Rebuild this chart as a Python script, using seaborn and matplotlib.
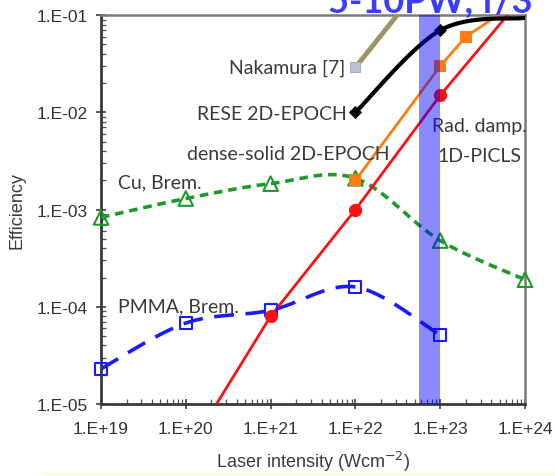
import numpy as np
import pandas as pd
import matplotlib
matplotlib.use("Agg")
import matplotlib.pyplot as plt
from matplotlib.lines import Line2D
import seaborn as sns

# ---- data -------------------------------------------------------------
intensity_decades = [1e19, 1e20, 1e21, 1e22, 1e23, 1e24]
x_tick_labels = ["1.E+19", "1.E+20", "1.E+21", "1.E+22", "1.E+23", "1.E+24"]
y_ticks = [1e-5, 1e-4, 1e-3, 1e-2, 1e-1]
y_tick_labels = ["1.E-05", "1.E-04", "1.E-03", "1.E-02", "1.E-01"]

cu_x = [1e19, 1e20, 1e21, 1e22, 1e23, 1e24]
cu_y = [8.3e-4, 1.3e-3, 1.85e-3, 2.1e-3, 4.8e-4, 1.9e-4]

pmma_x = [1e19, 1e20, 1e21, 1e22, 1e23]
pmma_y = [2.3e-5, 6.8e-5, 9.2e-5, 1.6e-4, 5.1e-5]

red_x = [2.3e20, 1e21, 1e22, 1e23, 6.2e23]
red_y = [1e-5, 8e-5, 1.0e-3, 1.5e-2, 1e-1]
red_marked = [1, 2, 3]

orange_x = [1e22, 1e23, 2e23, 4.8e23]
orange_y = [2.0e-3, 3.0e-2, 6.0e-2, 1e-1]
orange_marked = [0, 1, 2]

rese_x = [1e22, 1e23, 1e24]
rese_y = [1.0e-2, 7.0e-2, 9.4e-2]
rese_marked = [0, 1]

nakamura_x = [1e22, 3.1e22]
nakamura_y = [2.9e-2, 1e-1]

band_range = [5.6e22, 1e23]


def smooth_path(xs, ys, n=40):
    """Excel-style smoothed curve (cubic Bezier through the points) in log-log space."""
    lx, ly = np.log10(xs), np.log10(ys)
    P = np.column_stack([lx, ly])
    Pe = np.vstack([P[0], P, P[-1]])
    out = []
    for i in range(len(P) - 1):
        p0, p1, p2, p3 = Pe[i], Pe[i + 1], Pe[i + 2], Pe[i + 3]
        c1 = p1 + (p2 - p0) / 6.0
        c2 = p2 - (p3 - p1) / 6.0
        t = np.linspace(0, 1, n)[:, None]
        seg = ((1 - t) ** 3) * p1 + 3 * ((1 - t) ** 2) * t * c1 + 3 * (1 - t) * t ** 2 * c2 + t ** 3 * p2
        out.append(seg if i == 0 else seg[1:])
    pts = np.vstack(out)
    return 10 ** pts[:, 0], 10 ** pts[:, 1]


sns.set_theme(style="white")
plt.rcParams["font.family"] = ["Liberation Sans", "DejaVu Sans"]

fig = plt.figure(figsize=(5.55, 4.77), dpi=100)
ax = fig.add_axes([0.182, 0.151, 0.764, 0.815])
ax.set_xscale("log")
ax.set_yscale("log")


def draw_line(xs, ys, color, lw, dashes=None, z=3):
    df = pd.DataFrame({"x": xs, "y": ys})
    sns.lineplot(data=df, x="x", y="y", ax=ax, color=color, linewidth=lw,
                 estimator=None, sort=False, zorder=z)
    line = ax.lines[-1]
    if dashes is not None:
        line.set_dashes(dashes)
    line.set_clip_on(True)
    return line


def draw_marks(xs, ys, marker, size, face, edge, lw, z=4):
    df = pd.DataFrame({"x": xs, "y": ys})
    sns.scatterplot(data=df, x="x", y="y", ax=ax, marker=marker, s=size,
                    facecolor=face, edgecolor=edge, linewidth=lw, zorder=z,
                    clip_on=False)


green = "#1e9a2a"
blue = "#1a1aff"
red = "#ff1010"
orange = "#ff7a10"

# Cu bremsstrahlung
cx, cy = smooth_path(cu_x, cu_y)
draw_line(cx, cy, green, 2.6, dashes=(2.4, 1.6))
draw_marks(cu_x, cu_y, "^", 110, "none", green, 1.5)

# PMMA bremsstrahlung
px, py = smooth_path(pmma_x, pmma_y)
draw_line(px, py, blue, 2.6, dashes=(5.5, 3.2))
draw_marks(pmma_x, pmma_y, "s", 75, "none", blue, 1.5)

# radiation damping, 1D-PICLS
draw_line(red_x, red_y, red, 2.0)
draw_marks([red_x[i] for i in red_marked], [red_y[i] for i in red_marked],
           "o", 90, red, red, 0)

# dense-solid 2D-EPOCH
draw_line(orange_x, orange_y, orange, 2.0)
draw_marks([orange_x[i] for i in orange_marked], [orange_y[i] for i in orange_marked],
           "s", 85, orange, orange, 0)

# RESE 2D-EPOCH
bx, by = smooth_path(rese_x, rese_y)
draw_line(bx, by, "black", 3.0)
draw_marks([rese_x[i] for i in rese_marked], [rese_y[i] for i in rese_marked],
           "D", 45, "black", "black", 0)

# Nakamura [7]
draw_line(nakamura_x, nakamura_y, "#9c9462", 3.5)
draw_marks(nakamura_x[:1], nakamura_y[:1], "s", 60, "#b9c2d2", "#a8b0c0", 0.8)

# 5-10 PW band
ax.axvspan(band_range[0], band_range[1], color=(0.0, 0.0, 1.0), alpha=0.46,
           linewidth=0, zorder=6)

ax.set_xlim(intensity_decades[0], intensity_decades[-1])
ax.set_ylim(y_ticks[0], y_ticks[-1])

ax.set_xticks(intensity_decades)
ax.set_xticklabels(x_tick_labels)
ax.set_yticks(y_ticks)
ax.set_yticklabels(y_tick_labels)
ax.xaxis.set_minor_locator(matplotlib.ticker.LogLocator(base=10, subs=np.arange(2, 10)))
ax.yaxis.set_minor_locator(matplotlib.ticker.LogLocator(base=10, subs=np.arange(2, 10)))
ax.xaxis.set_minor_formatter(matplotlib.ticker.NullFormatter())
ax.yaxis.set_minor_formatter(matplotlib.ticker.NullFormatter())

ax.tick_params(which="major", direction="inout", length=7, width=1.2,
               colors="#404040", labelsize=12.5, labelcolor="#333333",
               bottom=True, left=True)
ax.tick_params(axis="x", which="major", pad=9)
ax.tick_params(axis="y", which="major", pad=6)
ax.tick_params(which="minor", direction="in", length=3.5, width=0.9,
               colors="#505050", bottom=True, left=True)

for side in ["left", "bottom"]:
    ax.spines[side].set_color("#3a3a3a")
    ax.spines[side].set_linewidth(2.0)
for side in ["top", "right"]:
    ax.spines[side].set_color("#7a7a7a")
    ax.spines[side].set_linewidth(1.8)
ax.grid(False)

ax.set_xlabel("Laser intensity (Wcm$^{-2}$)", fontsize=13, color="#3c3c3c", labelpad=9)
ax.set_ylabel("Efficiency", fontsize=13, color="#3c3c3c", labelpad=8)

label_kw = dict(fontsize=14, color="#3a3a3a", family=["Lato", "DejaVu Sans"], zorder=5)
ax.text(7.5e21, 2.9e-2, "Nakamura [7]", ha="right", va="center", **label_kw)
ax.text(8.0e21, 9.7e-3, "RESE 2D-EPOCH", ha="right", va="center", **label_kw)
ax.text(1.03e20, 3.75e-3, "dense-solid 2D-EPOCH", ha="left", va="center", **label_kw)
ax.text(1.6e19, 1.94e-3, "Cu, Brem.", ha="left", va="center", **label_kw)
ax.text(1.6e19, 1.03e-4, "PMMA, Brem.", ha="left", va="center", **label_kw)
ax.text(2.87e23, 10 ** -2.138, "Rad. damp.", ha="center", va="center", **label_kw)
ax.text(2.87e23, 10 ** -2.446, "1D-PICLS", ha="center", va="center", **label_kw)

fig.text(0.591, 1 - 13 / 477, "5-10PW, f/3", fontsize=26, fontweight="bold",
         color="#3c3cff", family=["Lato", "DejaVu Sans"], ha="left", va="baseline")

fig.add_artist(Line2D([0.07, 1.0], [1 - 475 / 477] * 2, transform=fig.transFigure,
                      color="#ffffc8", linewidth=1.2))

fig.savefig("out.png", dpi=100)
